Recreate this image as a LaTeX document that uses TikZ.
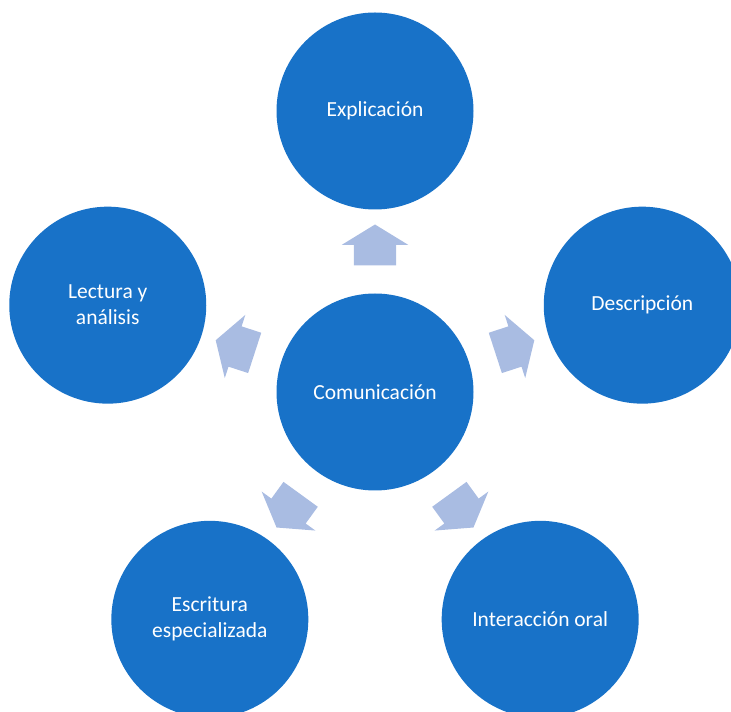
\documentclass[tikz,border=0pt]{standalone}
\usepackage{fontspec}
\setmainfont{Carlito}
\usetikzlibrary{shapes.arrows}
\definecolor{azul}{RGB}{24,114,200}
\definecolor{celeste}{RGB}{169,188,226}

\begin{document}
\begin{tikzpicture}[x=1pt,y=1pt,
  burbuja/.style={circle,fill=azul,text=white,minimum size=197pt,inner sep=0pt,
    align=center,font=\fontsize{21.5}{26}\selectfont},
  flecha/.style={single arrow,fill=celeste,inner xsep=0pt,inner ysep=21pt,
    minimum height=41pt,minimum width=66pt,single arrow head extend=12pt,
    single arrow tip angle=117}]
\useasboundingbox (0,0) rectangle (731,712);
\node[burbuja] (com) at (375,320) {Comunicación};
\node[burbuja] (expl) at ([shift={(90:281)}]com) {Explicación};
\node[burbuja] (desc) at ([shift={(18:281)}]com) {Descripción};
\node[burbuja] (inter) at ([shift={(-54:281)}]com) {Interacción oral};
\node[burbuja] (escr) at ([shift={(-126:281)}]com) {Escritura\\especializada};
\node[burbuja] (lect) at ([shift={(162:281)}]com) {Lectura y\\análisis};
\foreach \n/\a in {expl/90,desc/18,inter/-54,escr/-126,lect/162}
  \path (com) -- (\n) node[midway,flecha,rotate=\a] {};
\end{tikzpicture}
\end{document}
